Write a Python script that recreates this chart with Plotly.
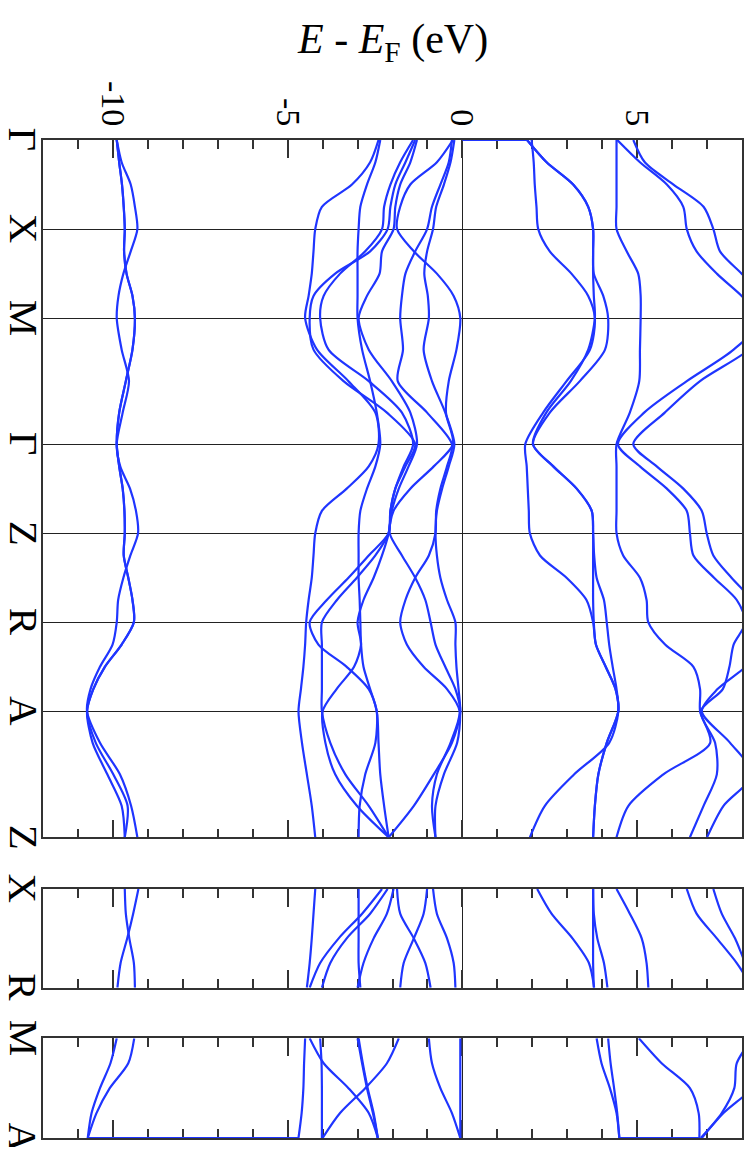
import plotly.graph_objects as go

# ---------------- k-path ----------------
p1_labels = ["Γ", "X", "M", "Γ", "Z", "R", "A", "Z"]
p1_nodes = [0.0, 1.0, 2.0, 3.414, 4.414, 5.414, 6.414, 7.828]
p2_labels = ["X", "R"]
p2_nodes = [0.0, 1.0]
p3_labels = ["M", "A"]
p3_nodes = [0.0, 1.0]
seg_frac = [0.0, 0.25, 0.5, 0.75]

# ---------------- energy axis ----------------
e_range = [-12, 8]
e_ticks = [-10, -5, 0, 5]
e_ticktext = ["-10", "-5", "0", "5"]

# ---------------- panel 1 bands  (Γ X M Γ Z R A Z), eV ----------------
p1_s1 = [-9.89, -9.75, -9.49, -9.37, -9.30, -9.49, -9.70, -9.84, -9.89, -9.75, -9.54, -9.72, -9.89,
         -9.79, -9.51, -9.34, -9.28, -9.50, -9.70, -9.85, -9.89, -10.01, -10.37, -10.64, -10.74,
         -10.37, -9.80, -9.48, -9.30]
p1_s2 = [-9.89, -9.82, -9.74, -9.69, -9.66, -9.68, -9.61, -9.44, -9.37, -9.44, -9.63, -9.82, -9.89,
         -9.82, -9.72, -9.67, -9.66, -9.69, -9.56, -9.44, -9.40, -9.75, -10.23, -10.56, -10.74,
         -10.49, -9.99, -9.58, -9.66]
p1_s3 = [-9.89, -9.82, -9.74, -9.69, -9.66, -9.68, -9.61, -9.44, -9.37, -9.44, -9.63, -9.82, -9.89,
         -9.82, -9.72, -9.67, -9.66, -9.69, -9.56, -9.44, -9.40, -9.75, -10.23, -10.56, -10.74,
         -10.58, -10.16, -9.75, -9.66]
p1_v1 = [-2.40, -2.64, -3.16, -4.02, -4.21, -4.26, -4.31, -4.40, -4.50, -4.16, -3.26, -2.49, -2.40,
         -2.68, -3.31, -4.02, -4.21, -4.26, -4.31, -4.40, -4.47, -4.50, -4.55, -4.62, -4.69,
         -4.59, -4.45, -4.31, -4.21]
p1_v2 = [-2.35, -2.49, -2.73, -2.92, -2.97, -3.00, -3.00, -3.00, -3.00, -2.87, -2.64, -2.45, -2.35,
         -2.49, -2.73, -2.92, -2.97, -2.97, -2.97, -2.94, -2.92, -2.90, -2.83, -2.64, -2.45,
         -2.49, -2.78, -2.94, -2.97]
p1_v3 = [-1.41, -1.78, -2.06, -2.24, -2.30, -2.78, -3.50, -3.97, -4.07, -3.83, -2.68, -1.73, -1.41,
         -1.68, -1.92, -2.06, -2.11, -2.68, -3.26, -3.88, -4.37, -4.12, -3.31, -2.68, -2.45,
         -2.40, -2.35, -2.24, -2.11]
p1_v4 = [-1.35, -1.63, -1.92, -2.06, -2.14, -2.64, -3.64, -4.26, -4.37, -4.26, -3.40, -2.16, -1.35,
         -1.63, -1.92, -2.06, -2.11, -2.49, -3.02, -3.59, -4.02, -4.02, -4.02, -4.02, -4.02,
         -3.78, -3.35, -2.68, -2.11]
p1_v5 = [-1.30, -1.49, -1.78, -1.92, -1.97, -2.30, -2.37, -2.73, -2.97, -2.68, -2.02, -1.49, -1.30,
         -1.54, -1.82, -2.02, -2.11, -2.30, -2.54, -2.83, -3.00, -2.90, -3.10, -3.60, -4.00,
         -3.92, -3.64, -3.02, -2.11]
p1_v6 = [-0.27, -0.73, -1.49, -1.78, -1.87, -1.39, -0.73, -0.25, -0.06, -0.17, -0.39, -0.47, -0.27,
         -0.82, -1.49, -1.97, -2.08, -1.73, -1.35, -1.06, -0.91, -0.77, -0.49, -0.20, -0.06,
         -0.30, -0.82, -1.39, -2.11]
p1_v7 = [-0.30, -0.39, -0.63, -0.87, -1.01, -1.35, -1.63, -1.73, -1.78, -1.70, -1.85, -1.01, -0.30,
         -0.44, -0.63, -0.75, -0.77, -0.96, -1.35, -1.63, -1.78, -1.59, -1.11, -0.44, -0.08,
         -0.34, -0.73, -0.87, -0.77]
p1_v8 = [-0.23, -0.34, -0.53, -0.75, -0.84, -1.01, -1.09, -0.99, -0.96, -1.11, -0.87, -0.49, -0.23,
         -0.39, -0.58, -0.73, -0.77, -0.73, -0.63, -0.44, -0.20, -0.20, -0.17, -0.11, -0.06,
         -0.15, -0.53, -0.77, -0.77]
p1_c1 = [1.98, 2.04, 2.07, 2.12, 2.17, 2.50, 3.12, 3.60, 3.79, 3.65, 2.98, 2.31, 1.80,
         1.84, 1.87, 1.90, 1.93, 2.22, 2.98, 3.55, 3.74, 3.82, 4.10, 4.38, 4.46,
         4.20, 3.20, 2.36, 1.93]
p1_c2 = [1.85, 2.41, 3.17, 3.60, 3.74, 3.74, 3.76, 4.03, 4.17, 4.08, 3.36, 2.50, 2.02,
         2.60, 3.27, 3.70, 3.74, 3.74, 3.74, 3.74, 3.76, 3.82, 4.10, 4.38, 4.46,
         4.13, 3.89, 3.79, 3.74]
p1_c2b = [1.85, 2.41, 3.17, 3.60, 3.74, 3.74, 3.74, 3.76, 3.79, 3.60, 3.10, 2.40, 2.02,
          2.60, 3.27, 3.70, 3.74, 3.77, 3.84, 4.05, 4.13, 4.20, 4.30, 4.41, 4.46,
          4.13, 3.89, 3.79, 3.74]
p1_c3 = [4.41, 4.41, 4.41, 4.41, 4.41, 4.70, 5.03, 5.10, 5.10, 5.08, 5.06, 4.79, 4.41,
         4.41, 4.41, 4.41, 4.41, 4.60, 5.08, 5.27, 5.32, 5.80, 6.61, 6.80, 6.80,
         7.09, 5.75, 4.75, 4.41]
p1_c4 = [4.43, 5.08, 5.85, 6.32, 6.42, 6.70, 7.28, 7.99, 8.60, 7.76, 6.42, 5.20, 4.45,
         5.08, 5.85, 6.42, 6.51, 6.61, 7.20, 7.85, 8.10, 7.76, 7.64, 7.45, 6.82,
         7.23, 7.28, 6.90, 6.51]
p1_c5 = [4.89, 5.22, 6.04, 6.90, 7.18, 7.37, 7.99, 8.60, 9.00, 8.20, 6.80, 5.79, 4.89,
         5.56, 6.32, 6.85, 6.99, 7.18, 7.70, 8.30, 8.80, 8.60, 8.10, 7.30, 6.85,
         7.66, 8.30, 7.47, 7.00]

# ---------------- panel 2 bands (X R) ----------------
p2_s1 = [-9.27, -9.42, -9.59, -9.78, -9.87]
p2_s2 = [-9.66, -9.63, -9.53, -9.40, -9.37]
p2_v1 = [-4.21, -4.26, -4.31, -4.37, -4.45]
p2_v2 = [-2.97, -2.97, -2.97, -2.97, -2.92]
p2_v3 = [-2.30, -2.87, -3.54, -4.07, -4.37]
p2_v4 = [-2.14, -2.64, -3.31, -3.78, -4.02]
p2_v5 = [-1.97, -2.16, -2.54, -2.83, -3.00]
p2_v6 = [-1.87, -1.78, -1.39, -1.06, -0.91]
p2_v7 = [-1.01, -1.11, -1.39, -1.68, -1.78]
p2_v8 = [-0.84, -0.73, -0.44, -0.25, -0.20]
p2_c1 = [2.14, 2.55, 3.15, 3.62, 3.77]
p2_c2 = [3.74, 3.74, 3.74, 3.74, 3.76]
p2_c2b = [3.74, 3.76, 3.86, 4.05, 4.15]
p2_c3 = [4.41, 4.79, 5.13, 5.27, 5.32]
p2_c4 = [6.42, 6.70, 7.28, 7.85, 8.30]
p2_c5 = [7.18, 7.42, 7.80, 8.10, 8.50]

# ---------------- panel 3 bands (M A) ----------------
p3_s1 = [-9.89, -10.07, -10.37, -10.61, -10.72]
p3_s2 = [-9.39, -9.56, -10.09, -10.47, -10.72]
p3_v1 = [-4.50, -4.53, -4.55, -4.60, -4.69]
p3_v2 = [-4.37, -3.97, -3.26, -2.68, -2.42]
p3_v3 = [-4.07, -4.03, -4.02, -4.02, -4.02]
p3_v4 = [-3.00, -2.87, -2.73, -2.56, -2.42]
p3_v5 = [-1.82, -2.16, -2.78, -3.50, -4.00]
p3_v6 = [-0.96, -0.87, -0.63, -0.30, -0.06]
p3_v7 = [-0.06, -0.06, -0.06, -0.06, -0.06]
p3_v8 = [-2.97, -2.85, -2.71, -2.54, -2.42]
p3_c1 = [3.84, 3.98, 4.22, 4.41, 4.49]
p3_c2 = [4.17, 4.24, 4.34, 4.43, 4.49]
p3_c3 = [5.05, 5.70, 6.51, 6.76, 6.78]
p3_c4 = [8.30, 7.85, 7.78, 7.42, 6.82]
p3_c5 = [9.20, 8.80, 8.30, 7.47, 6.85]

BLUE = "#1f35ff"
FONT = "Liberation Serif"


def kgrid(nodes):
    k = []
    for a, b in zip(nodes[:-1], nodes[1:]):
        k += [a + (b - a) * f for f in seg_frac]
    k.append(nodes[-1])
    return k


k1, k2, k3 = kgrid(p1_nodes), kgrid(p2_nodes), kgrid(p3_nodes)

panels = [
    (k1, [p1_s1, p1_s2, p1_s3, p1_v1, p1_v2, p1_v3, p1_v4, p1_v5, p1_v6, p1_v7, p1_v8,
          p1_c1, p1_c2, p1_c2b, p1_c3, p1_c4, p1_c5], "x", "y"),
    (k2, [p2_s1, p2_s2, p2_v1, p2_v2, p2_v3, p2_v4, p2_v5, p2_v6, p2_v7, p2_v8,
          p2_c1, p2_c2, p2_c2b, p2_c3, p2_c4, p2_c5], "x2", "y2"),
    (k3, [p3_s1, p3_s2, p3_v1, p3_v2, p3_v3, p3_v4, p3_v5, p3_v6, p3_v7, p3_v8,
          p3_c1, p3_c2, p3_c3, p3_c4, p3_c5], "x3", "y3"),
]

fig = go.Figure()
for kk, bands, xa, ya in panels:
    for band in bands:
        fig.add_trace(go.Scatter(x=band, y=kk, xaxis=xa, yaxis=ya, mode="lines",
                                 line=dict(color=BLUE, width=2.2, shape="spline", smoothing=0.8),
                                 showlegend=False, hoverinfo="skip"))

# connector segments drawn along the panel edges in the original
fig.add_trace(go.Scatter(x=[0, p1_c2[0]], y=[k1[0], k1[0]], xaxis="x", yaxis="y", mode="lines",
                         line=dict(color=BLUE, width=2.2), showlegend=False, hoverinfo="skip"))
fig.add_trace(go.Scatter(x=[p3_s1[-1], p3_v1[-1]], y=[k3[-1], k3[-1]], xaxis="x3", yaxis="y3",
                         mode="lines", line=dict(color=BLUE, width=2.2), showlegend=False,
                         hoverinfo="skip"))
fig.add_trace(go.Scatter(x=[p3_c1[-1], p3_c3[-1]], y=[k3[-1], k3[-1]], xaxis="x3", yaxis="y3",
                         mode="lines", line=dict(color=BLUE, width=2.2), showlegend=False,
                         hoverinfo="skip"))

AX = "#333333"


def xaxis(anchor, top=False):
    d = dict(anchor=anchor, domain=[0, 1], range=e_range, showgrid=False, automargin=False,
             zeroline=True, zerolinecolor="#222", zerolinewidth=1.3,
             showline=True, linecolor=AX, linewidth=1.5, mirror="allticks",
             ticks="inside", ticklen=18, tickwidth=1.5, tickcolor=AX,
             tickvals=e_ticks, ticktext=e_ticktext,
             minor=dict(dtick=1, tick0=0, ticks="inside", ticklen=9, tickwidth=1.5, tickcolor=AX),
             layer="below traces", showticklabels=top, fixedrange=True)
    if top:
        d.update(side="top", tickangle=90, tickfont=dict(family=FONT, size=34, color="black"))
    return d


def yaxis(anchor, dom, nodes):
    return dict(anchor=anchor, domain=dom, range=[nodes[-1], nodes[0]], automargin=False,
                tickvals=nodes, showticklabels=False, showgrid=True, gridcolor="#222",
                gridwidth=1.3, zeroline=False, showline=True, linecolor=AX, linewidth=1.5,
                mirror=True, ticks="", layer="below traces", fixedrange=True)


# high-symmetry point labels, rotated like the rest of the figure
annotations = [dict(text="<i>E</i> - <i>E</i><sub>F</sub> (eV)", xref="paper", yref="paper",
                    x=0.5, y=1.098, xanchor="center", yanchor="middle", showarrow=False,
                    font=dict(family=FONT, size=42, color="black"))]
for yref, nodes, labels in [("y", p1_nodes, p1_labels), ("y2", p2_nodes, p2_labels),
                            ("y3", p3_nodes, p3_labels)]:
    for kv, lab in zip(nodes, labels):
        annotations.append(dict(text=lab, xref="paper", yref=yref, x=-0.028, y=kv,
                                xanchor="center", yanchor="middle", textangle=90,
                                showarrow=False, font=dict(family=FONT, size=41, color="black")))

# the page body adds an 8 px offset; the figure is sized so the plot frame lands where the
# original's frame is (x 43..742, y 140..1138 in the 753x1155 window)
fig.update_layout(
    width=737, height=1139,
    margin=dict(l=35, r=3, t=132, b=9, autoexpand=False),
    paper_bgcolor="white", plot_bgcolor="white",
    font=dict(family=FONT, color="black"),
    xaxis=xaxis("y", top=True),
    xaxis2=xaxis("y2"),
    xaxis3=xaxis("y3"),
    yaxis=yaxis("x", [0.3013, 1.0], p1_nodes),
    yaxis2=yaxis("x2", [0.1506, 0.2495], p2_nodes),
    yaxis3=yaxis("x3", [0.0, 0.0999], p3_nodes),
    annotations=annotations,
)

fig.write_html("out.html")
